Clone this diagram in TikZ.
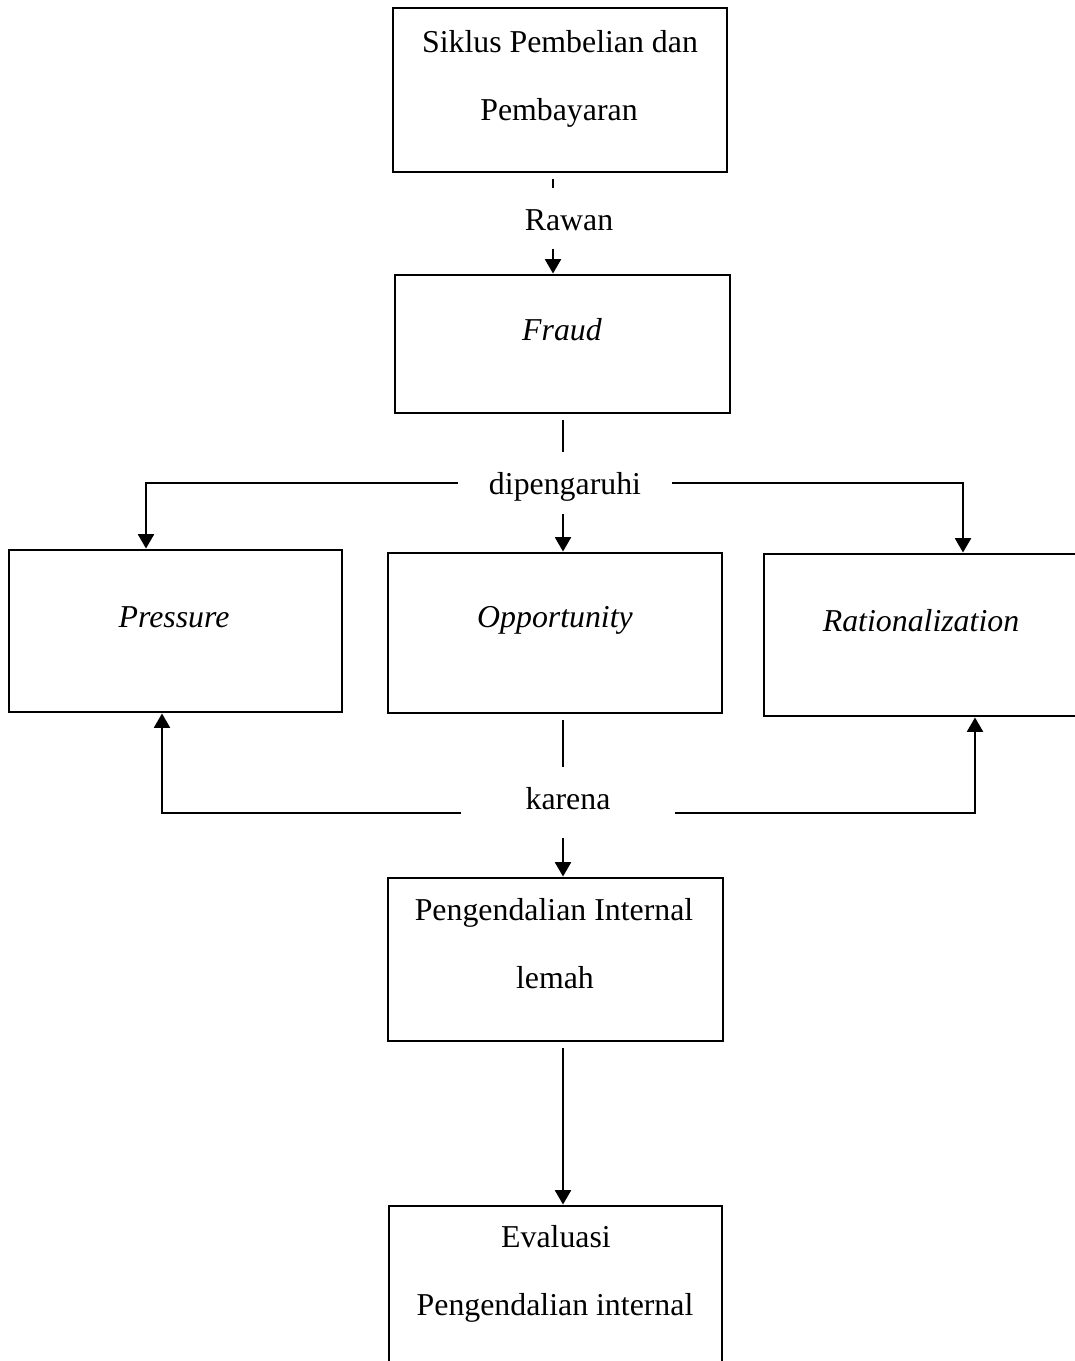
\documentclass[tikz,border=0pt]{standalone}
\usepackage{fontspec}
\setmainfont{Liberation Serif}
\usepackage{tikz}
\usetikzlibrary{arrows.meta}
\usetikzlibrary{shapes,positioning,fit,calc}

\begin{document}
\begin{tikzpicture}[x=0.377pt,y=-0.377pt,
    box/.style={draw,line width=1.1pt,inner sep=0pt},
    txt/.style={anchor=base,inner sep=0pt,font=\fontsize{12}{14}\selectfont},
    lbl/.style={anchor=base,inner ysep=0pt,font=\fontsize{12}{14}\selectfont},
    con/.style={line width=.8pt},
    arr/.style={con,-{Triangle[length=5.4pt,width=6pt]}},
    from/.style={con,shorten <=2pt}]
  \useasboundingbox (0,0) rectangle (1075,1361);
  \coordinate (rawanx) at (553,0);
  \coordinate (midx) at (563,0);
  \coordinate (leftin) at (146,0);
  \coordinate (rightin) at (963,0);
  \coordinate (leftout) at (162,0);
  \coordinate (rightout) at (975,0);

  \node[box,fit={(393,8) (727,172)}] (siklus) {};
  \node[txt] (siklus1) at (560,52) {Siklus Pembelian dan};
  \node[txt] (siklus2) at (559,120) {Pembayaran};

  \node[lbl,inner xsep=0pt,text height=15.8pt,text depth=6.8pt] (rawan) at (569,230) {Rawan};

  \node[box,fit={(395,275) (730,413)}] (fraud) {};
  \node[txt] (fraudt) at (562,340) {\itshape Fraud};

  \node[lbl,inner xsep=11.5pt,text height=15.5pt,text depth=7.2pt] (dip) at (565,494) {dipengaruhi};

  \node[box,fit={(9,550) (342,712)}] (pressure) {};
  \node[txt] (pressuret) at (174,627) {\itshape Pressure};
  \node[box,fit={(388,553) (722,713)}] (opp) {};
  \node[txt] (oppt) at (555,627) {\itshape Opportunity};
  \node[box,fit={(764,554) (1100,716)}] (rational) {};
  \node[txt] (rationalt) at (921,631) {\itshape Rationalization};

  \node[lbl,inner xsep=24.2pt,text height=15.5pt,text depth=10.9pt] (karena) at (568,809) {karena};

  \node[box,fit={(388,878) (723,1041)}] (pil) {};
  \node[txt] (pil1) at (554,920) {Pengendalian Internal};
  \node[txt] (pil2) at (555,988) {lemah};

  \node[box,fit={(389,1206) (722,1400)}] (eval) {};
  \node[txt] (eval1) at (556,1247) {Evaluasi};
  \node[txt] (eval2) at (555,1315) {Pengendalian internal};

  \draw[from] (siklus.south -| rawanx) -- (rawan.north -| rawanx);
  \draw[arr] (rawan.south -| rawanx) -- (fraud.north -| rawanx);
  \draw[from] (fraud.south -| midx) -- (dip.north -| midx);
  \draw[arr] (dip.south -| midx) -- (opp.north -| midx);
  \draw[arr] (dip.west) -| (pressure.north -| leftin);
  \draw[arr] (dip.east) -| (rational.north -| rightin);
  \draw[from] (opp.south -| midx) -- (karena.north -| midx);
  \draw[arr] ([yshift=-3.8pt]karena.west) -| (pressure.south -| leftout);
  \draw[arr] ([yshift=-3.8pt]karena.east) -| (rational.south -| rightout);
  \draw[arr] (karena.south -| midx) -- (pil.north -| midx);
  \draw[from,arr] (pil.south -| midx) -- (eval.north -| midx);
\end{tikzpicture}
\end{document}
